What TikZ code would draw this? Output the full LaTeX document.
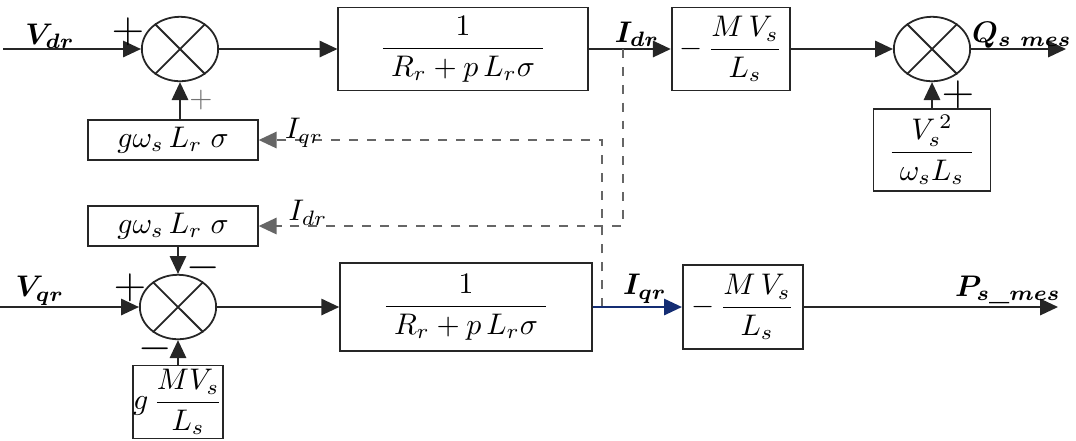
\documentclass[tikz,border=0pt]{standalone}
\usepackage{amsmath}
\usepackage{bm}
\usepackage{tikz}
\usetikzlibrary{shapes.geometric,arrows.meta}
\definecolor{navy}{RGB}{20,45,115}
\newcommand{\sumcross}[1]{
    \draw (#1.135) -- (#1.-45);
    \draw (#1.45) -- (#1.-135);
}

\begin{document}
\begin{tikzpicture}[x=0.0118cm,y=-0.0118cm,line width=0.6pt,draw=black!85,
        sum/.style={draw,ellipse,minimum width=0.9cm,minimum height=0.76cm,inner sep=0pt},
        block/.style={draw,rectangle,inner sep=0pt},
        sign/.style={inner sep=0pt,font=\Large},
        sig/.style={-{Triangle[length=6pt,width=5.5pt]}},
        fb/.style={sig,dashed,draw=black!60}]
        \useasboundingbox (0,0) rectangle (1076,440);
        % d axis
        \coordinate (vdr) at (3,49);
        \node[sum] (s1) at (180,49) {};
        \sumcross{s1}
        \node[block,minimum width=2.94cm,minimum height=0.98cm] (b1) at (463,49) {$\dfrac{1}{\;R_r + p\,L_r\sigma\;}$};
        \node[block,minimum width=1.40cm,minimum height=0.98cm] (b2) at (731,49) {$-\,\dfrac{M\,V_s}{L_s}$};
        \node[sum] (s2) at (932,49) {};
        \sumcross{s2}
        \coordinate (qout) at (1066,49);
        \node[block,minimum width=1.38cm,minimum height=0.97cm] (b5) at (932,150) {$\dfrac{V_s^{\,2}}{\;\omega_s L_s\;}$};
        \node[block,minimum width=2.0cm,minimum height=0.48cm] (gq) at (173,140) {$g\omega_s\,L_r\;\sigma$};
        \coordinate (id) at (623,49);
        % q axis
        \coordinate (vqr) at (0,307);
        \node[block,minimum width=2.0cm,minimum height=0.47cm] (gd) at (173,226) {$g\omega_s\,L_r\;\sigma$};
        \node[sum] (s3) at (178,307) {};
        \sumcross{s3}
        \node[block,minimum width=1.01cm,minimum height=0.86cm] (b6) at (178,402) {$g\,\dfrac{MV_s}{L_s}$};
        \node[block,minimum width=2.97cm,minimum height=1.04cm] (b3) at (466,307) {$\dfrac{1}{\;R_r + p\,L_r\sigma\;}$};
        \node[block,minimum width=1.42cm,minimum height=0.99cm] (b4) at (743,307) {$-\,\dfrac{M\,V_s}{L_s}$};
        \coordinate (iq) at (602,307);
        \coordinate (pout) at (1058,307);

        \draw[sig] (vdr) -- (s1.west);
        \draw[sig] (s1.east) -- (b1.west);
        \draw[sig] (b1.east) -- (b2.west);
        \draw[sig] (b2.east) -- (s2.west);
        \draw[sig] (s2.east) -- (qout);
        \draw[sig] (b5.north) -- (s2.south);
        \draw[sig] (s1.south |- gq.north) -- (s1.south);
        \draw[fb] (iq) |- (gq.east);
        \draw[fb] (id) |- (gd.east);
        \draw[sig] (gd.south -| s3) -- (s3.north);
        \draw[sig] (vqr) -- (s3.west);
        \draw[sig] (b6.north) -- (s3.south);
        \draw[sig] (s3.east) -- (b3.west);
        \draw[sig,draw=navy,fill=navy] (b3.east) -- (b4.west);
        \draw[sig] (b4.east) -- (pout);

        % labels
        \node (lvdr) at (50,36) {$\bm{V_{dr}}$};
        \node[sign] (p1) at (128,32) {$+$};
        \node[sign,font=\normalsize,text=black!55] (p2) at (201,100) {$+$};
        \node (lidr) at (637,34) {$\bm{I_{dr}}$};
        \node (lq) at (1022,35) {$\bm{Q_{s\ mes}}$};
        \node[sign] (p3) at (958,95) {$+$};
        \node (liq1) at (304,133) {$I_{qr}$};
        \node (lid1) at (308,213) {$I_{dr}$};
        \node[sign] (m1) at (203,268) {$-$};
        \node (lvqr) at (40,291) {$\bm{V_{qr}}$};
        \node[sign] (p4) at (130,288) {$+$};
        \node[sign] (m2) at (155,349) {$-$};
        \node (liqr) at (645,289) {$\bm{I_{qr}}$};
        \node (lp) at (1008,290) {$\bm{P}_{\bm{s}\textbf{\_}\bm{mes}}$};
\end{tikzpicture}
\end{document}
